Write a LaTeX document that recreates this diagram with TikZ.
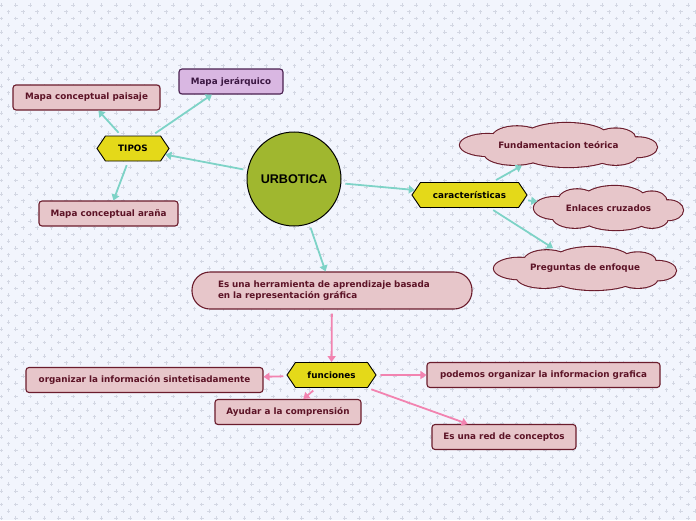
\documentclass[tikz,border=0pt]{standalone}
\usepackage{fontspec}
\setmainfont{DejaVu Sans}
\newfontfamily\titlefont{Liberation Sans}
\usetikzlibrary{shapes.symbols,shapes.geometric,arrows.meta}
\definecolor{bg}{HTML}{F2F5FD}
\definecolor{plusc}{HTML}{D3D7E3}
\definecolor{boxfill}{HTML}{E7C6CA}
\definecolor{boxdraw}{HTML}{6B1C2C}
\definecolor{boxtext}{HTML}{5C1326}
\definecolor{purfill}{HTML}{D9B7E2}
\definecolor{purdraw}{HTML}{4A2050}
\definecolor{purtext}{HTML}{3B1742}
\definecolor{hexfill}{HTML}{E4D919}
\definecolor{circfill}{HTML}{A0B72F}
\definecolor{tealc}{HTML}{7ED3C7}
\definecolor{pinkc}{HTML}{F283B0}
\tikzset{
  nfont/.style={font=\fontsize{8.8}{11}\selectfont\bfseries},
  box/.style={nfont, draw=boxdraw, fill=boxfill, text=boxtext, rounded corners=3pt, line width=1.1pt, minimum height=25pt, inner sep=0pt},
  purbox/.style={box, draw=purdraw, fill=purfill, text=purtext},
  hexa/.style={nfont, signal, signal to=west and east, signal pointer angle=112, draw=black, fill=hexfill, line width=0.9pt, minimum height=25pt, inner sep=0pt},
  cloudlabel/.style={nfont, ellipse, text=boxtext, inner sep=0pt},
  tarrow/.style={draw=tealc, line width=1.8pt, -{Triangle[length=6pt,width=8pt]}, shorten <=4pt},
  parrow/.style={draw=pinkc, line width=1.8pt, -{Triangle[length=6pt,width=8pt]}, shorten <=4pt},
}
\newcommand\puffset{0/0.05/0.85/0.75, -0.72/0.0/0.28/0.5, -0.42/-0.35/0.25/0.5, 0.08/-0.4/0.42/0.6, 0.58/-0.3/0.2/0.45, 0.8/0.1/0.2/0.45, 0.58/0.45/0.22/0.45, 0.1/0.45/0.45/0.55, -0.45/0.4/0.3/0.5}
\newcommand\cloudbg[4]{%
  \begin{scope}[shift={(#1,#2)},xscale=#3/2,yscale=#4/2]
    \foreach \u/\v/\ru/\rv in \puffset {\draw[boxdraw, line width=2.2pt] (\u,\v) ellipse[x radius=\ru, y radius=\rv];}
    \foreach \u/\v/\ru/\rv in \puffset {\fill[boxfill] (\u,\v) ellipse[x radius=\ru, y radius=\rv];}
  \end{scope}}
\begin{document}
\begin{tikzpicture}[x=1pt,y=-1pt]
\fill[bg] (0,0) rectangle (696,520);
\useasboundingbox (0,0) rectangle (696,520);
\foreach \j in {0,...,76}{
  \pgfmathsetmacro{\yy}{5+6.75*\j}
  \pgfmathsetmacro{\off}{mod(\j,2)*7.15}
  \foreach \i in {0,...,48}{
    \draw[plusc, line width=0.7pt] ({1.5+\off+14.3*\i-1.8},\yy) -- ++(3.6,0) ({1.5+\off+14.3*\i},\yy-1.8) -- ++(0,3.6);
  }
}
% cloud outlines
\cloudbg{558.5}{145}{197}{44}
\cloudbg{608.5}{208}{149}{44}
\cloudbg{585}{268.5}{182}{43}
% nodes
\node[circle, draw=black, line width=1pt, fill=circfill, minimum size=94pt, inner sep=0pt, font=\titlefont\fontsize{12.6}{14}\selectfont\bfseries] (urb) at (294,179) {URBOTICA};
\node[hexa, minimum width=72pt] (tipos) at (133,148.5) {TIPOS};
\node[box, minimum width=147pt] (paisaje) at (86.5,97.5) {Mapa conceptual paisaje};
\node[purbox, minimum width=104pt] (jer) at (231,81.5) {Mapa jerárquico};
\node[box, minimum width=139pt] (arana) at (108.5,213.5) {Mapa conceptual araña};
\node[hexa, minimum width=115pt] (carac) at (469.5,195) {características};
\node[cloudlabel, minimum width=197pt, minimum height=44pt] (fund) at (558.5,145) {Fundamentacion teórica};
\node[cloudlabel, minimum width=149pt, minimum height=44pt] (enl) at (608.5,208) {Enlaces cruzados};
\node[cloudlabel, minimum width=182pt, minimum height=43pt] (preg) at (585,268.5) {Preguntas de enfoque};
\node[box, rounded corners=18pt, minimum width=280pt, minimum height=37pt, text width=228pt, align=left, inner sep=0pt] (herr) at (332,290.5) {Es una herramienta de aprendizaje basada\\en la representación gráfica};
\node[hexa, minimum width=89pt] (func) at (331.5,375) {funciones};
\node[box, minimum width=237pt] (org) at (144.5,380) {organizar la información sintetisadamente};
\node[box, minimum width=146pt] (ayu) at (288,412) {Ayudar a la comprensión};
\node[box, minimum width=233pt] (pod) at (543.5,375) {podemos organizar la informacion grafica};
\node[box, minimum width=144pt] (red) at (504,437) {Es una red de conceptos};
% connectors
\draw[tarrow] (urb) -- (tipos);
\draw[tarrow] (tipos) -- (paisaje);
\draw[tarrow] (tipos) -- (jer);
\draw[tarrow] (tipos) -- (arana);
\draw[tarrow] (urb) -- (carac);
\draw[tarrow] (carac) -- (fund);
\draw[tarrow] (carac) -- (enl);
\draw[tarrow] (carac) -- (preg);
\draw[tarrow] (urb) -- (herr);
\draw[parrow] (herr) -- (func);
\draw[parrow] (func) -- (org);
\draw[parrow] (func) -- (ayu);
\draw[parrow] (func) -- (pod);
\draw[parrow] (func) -- (red);
\end{tikzpicture}
\end{document}
